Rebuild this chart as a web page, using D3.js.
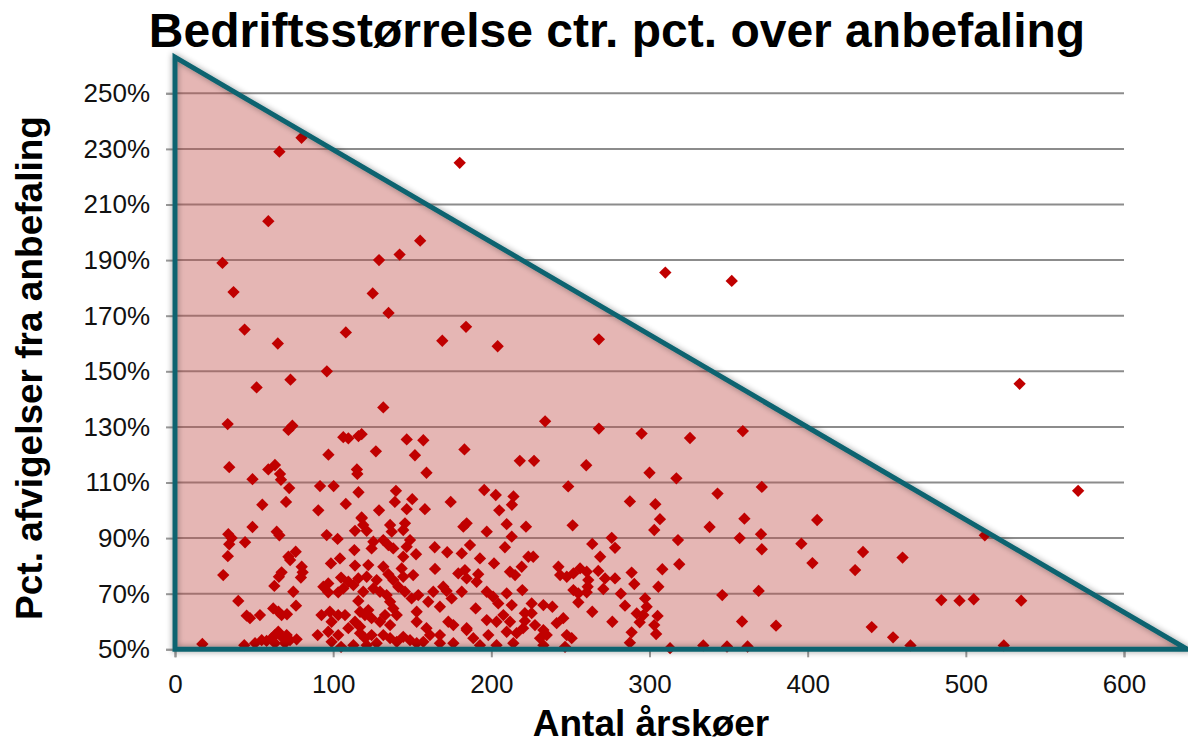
<!DOCTYPE html>
<html>
<head>
<meta charset="utf-8">
<script src="https://cdn.jsdelivr.net/npm/d3@7"></script>
<style>
  body { margin: 0; background: #fff; }
  text { font-family: Arial, "Liberation Sans", sans-serif; }
</style>
</head>
<body>
<svg id="chart" width="1188" height="745"></svg>
<script>
// antal årskøer per bedrift (x) and pct. afvigelse fra anbefaling (y)
const herdSize = [
  80, 66, 59, 30, 37, 44, 65, 108, 96, 73,
  129, 142, 155, 125, 135, 169, 184, 180, 310, 352,
  204, 268, 534, 571, 512, 496, 505, 535, 524,
  359, 343, 371, 338, 360, 406, 357, 370.5, 371, 396,
  435, 403, 430, 460, 346, 369, 484.5, 358.5, 380, 440.5,
  454, 465, 334, 349, 362,
  234, 268, 295, 325.6, 218, 227, 260, 300, 317, 248.6, 287.6, 303.7,
  131.7, 106.4, 109.6, 116, 118, 146.5, 157, 127, 151.7, 183,
  115, 115.3, 159, 116, 108, 139.7, 139, 150, 146.5, 129, 158,
  174.3, 195.5, 202.8, 214, 213, 205, 118,
  51.6, 33.3, 71.7, 74.2, 97, 34.3, 59, 63.2, 49, 66.4,
  67, 72.2, 91.7, 100.3, 55.2, 70.2, 90.6,
  49, 33.7, 35.8, 34.3, 44.3, 64.3, 66, 33.4, 30.5, 71.7,
  76.3, 72.8, 67.4, 65.7, 80.1, 80.7, 79.6, 62.8, 74.8, 40,
  45.3, 47.4, 53.7, 62.1, 65.4, 67.4, 70.8, 76.5, 17.3, 43.8,
  50.6, 54.8, 57.9, 61.1, 63.2, 65.3, 67.4, 70.6, 72.7, 76.9, 63.2, 69.5,
  95.9, 102.8, 98.6, 104.3, 105, 93.8, 96.9, 96.9, 103.2, 106.4,
  92.6, 97.9, 99, 103.2, 90.2, 96.9, 99, 103.2, 105,
  118, 119, 113.8, 121.2, 136, 137, 145.4, 144.3, 182.3, 184.4,
  197.1, 209.7, 212.9, 125.4, 124.3, 131.7, 134.9, 138, 148.6, 146.5,
  113.4, 152.4, 144.3, 164.2, 172.1, 181.3, 186.5, 192.8, 208.6, 201.7,
  113.8, 122.2, 131.7, 143.3, 150.6, 164.4, 109.6, 115.9, 121.2, 127.5,
  134.9, 138, 144.3, 179.1, 183.3, 184.4, 190.7, 191.7, 211.8, 215,
  112.8, 119, 115.9, 125.4, 129.6, 133.8, 136, 141.2, 145.4, 149.6,
  153.8, 163.3, 160.1, 169.6, 171.7, 174.9, 167.5, 181.3, 190.1, 197.1,
  201.1, 204.4, 209.7, 212.9, 107.5, 117, 120.1, 122.2, 124.3, 113.8,
  117, 129.6, 132.8, 136, 138, 140.2, 152.8, 152.8, 159, 172.8,
  176, 184.4, 197.1, 203.3, 207.6, 211.8, 109.6, 117, 120.1, 124.3,
  112.8, 121.2, 127.5, 131.7, 136, 140.2, 144.3, 148.6, 152.8, 157,
  161.2, 167.5, 167.5, 176, 184.4, 188.6, 192.8, 198.1, 203.3, 209.7, 213.9,
  221.9, 251.4, 306.6, 303, 318, 276.1, 278.2, 263.8, 268.8, 318.8,
  308.1, 288.7, 290.4, 305.6, 223.4, 226.5, 219.2, 219.6, 242.4, 243.5,
  247.7, 251.9, 256.1, 260.3, 261.3, 260.9, 267.6, 271.9, 278.2, 251.9,
  255, 260.3, 270.8, 281.9, 255, 263.8, 284.5, 276.5, 297.2, 298.2,
  291.9, 296.1, 293.8, 305.1, 303, 288.7, 287.6, 304.2, 313, 225.5,
  232.9, 238.6, 221.2, 225.5, 221.2, 220.1, 241.3, 245.5, 227.6, 232.9,
  235, 230.8, 247.7, 250.8, 216, 232.9, 246.6
];

const pctOver = [
  234, 229, 204, 189, 178.5, 165, 160, 164, 150, 147,
  190, 192, 197, 178, 171, 161, 166, 225, 185.5, 182.5,
  159, 161.5, 145.5, 107, 91, 67.5, 68, 67.5, 51.4,
  128.5, 106, 108.4, 94, 97, 96.5, 90, 91.4, 86, 88,
  85, 81, 78.5, 83, 69.5, 71, 67.7, 60, 58.5, 58,
  54.3, 51.4, 51.4, 51, 51,
  132, 129.4, 127.6, 126, 117.8, 117.8, 116.2, 113.5, 111.5, 108.6, 103.2, 102.2,
  137, 126.3, 125.9, 126.7, 127.4, 125.5, 125.2, 121.2, 119.8, 121.9,
  114.7, 113.1, 113.5, 106.5, 102.3, 107, 103, 104, 100.4, 100, 100.4,
  103, 107.3, 105.5, 105, 102, 100, 97.4,
  144.2, 131, 128.9, 130.4, 120, 115.5, 114.7, 116.3, 111.2, 113.1,
  111, 108, 108.7, 108.7, 102, 103, 100,
  94, 91.4, 90, 87.8, 88.5, 92.3, 91, 83.5, 76.7, 83.3,
  85.1, 82.1, 77.7, 76.1, 79.7, 77.7, 75.8, 72.8, 70.7, 67.4,
  62.1, 61.2, 62.3, 64.7, 63.5, 62.3, 62.6, 65.7, 51.9, 51.5,
  52.2, 53.3, 53, 54, 55.1, 56.3, 54.5, 55.1, 53.3, 53.6, 52.2, 52.2,
  91.1, 89.7, 80.9, 82.7, 75.8, 72.5, 73.7, 70.5, 70.5, 71.9,
  62.3, 63.5, 59.9, 62.3, 55.1, 56.3, 52.7, 55.1, 50.9,
  97.1, 94.7, 92.6, 92.6, 94.7, 92.3, 95.3, 92.9, 94.1, 95.3,
  92.3, 95, 90.5, 88.7, 86.3, 89.3, 87.5, 86.3, 89.3, 86.9,
  85.7, 84.2, 83.3, 86.7, 84.9, 84.5, 87.5, 82.7, 86.7, 80.9,
  80.1, 80.3, 79.7, 79.1, 76.7, 78.9, 74.3, 75.5, 76.1, 74.9,
  77, 74.9, 76.1, 77.3, 78.5, 75.5, 74.3, 77, 77.9, 76.7,
  73.1, 70.7, 67.4, 71.9, 70.7, 69.5, 67.1, 72.5, 70.7, 68.3,
  69.5, 70.7, 67.1, 72.5, 71, 68.3, 65.3, 70.7, 64.7, 70.7,
  68.9, 66.5, 70.1, 65.9, 62.3, 63.5, 62.3, 64.1, 61.2, 59.9,
  58.1, 59.9, 62.3, 58.7, 64.7, 62.3, 63.5, 59.9, 57.6, 59.9,
  58.7, 57.6, 60.5, 59.9, 62.3, 59.9, 57.6, 55.8, 54, 55.1,
  51.5, 51.5, 52.2, 55.1, 54, 52.7, 54.5, 53.3, 52.2, 52.7,
  55.1, 55.1, 52.2, 52.2, 56.9, 54, 51.5, 55.1, 51.5, 56.3, 52.2,
  94.1, 94.6, 96.8, 92.9, 89.3, 90.1, 86.5, 87.9, 83.3, 80.6,
  78.8, 77.6, 73.5, 72.5, 83.3, 83.3, 79.7, 71.3, 79.7, 76.7,
  76.1, 77.3, 79.1, 77.9, 74.9, 72.5, 78.2, 75.5, 75.5, 71.3,
  70.1, 70.5, 71.7, 70, 66.9, 63.5, 65.7, 59.9, 68.3, 65.3,
  62.9, 62.3, 59.7, 62, 58.7, 56.1, 52.4, 55.5, 50.4, 66.5,
  65.9, 65.3, 63, 63, 60.2, 57.6, 59.4, 61.2, 58.7, 56.9,
  55.1, 54, 55.1, 54, 55.8, 51.5, 50.9
];

const yTicks = [50, 70, 90, 110, 130, 150, 170, 190, 210, 230, 250];
const xTicks = [0, 100, 200, 300, 400, 500, 600];

// the drawn triangle (anbefalingsgrænse)
const triangleX = [0, 640, 0];
const triangleY = [263, 50, 50];

const svg = d3.select("#chart");

const xScale = d3.scaleLinear()
  .domain([0, 600])
  .range([175, 1124]);

const yScale = d3.scaleLinear()
  .domain([50, 250])
  .range([649.3, 93.3]);

const defs = svg.append("defs");
const glow = defs.append("filter")
  .attr("id", "glow")
  .attr("x", "-10%").attr("y", "-10%")
  .attr("width", "120%").attr("height", "120%");
glow.append("feGaussianBlur").attr("in", "SourceAlpha").attr("stdDeviation", 3);
glow.append("feComponentTransfer").append("feFuncA").attr("type", "linear").attr("slope", 0.4);
const merge = glow.append("feMerge");
merge.append("feMergeNode");
merge.append("feMergeNode").attr("in", "SourceGraphic");

// gridlines
svg.append("g")
  .selectAll("line")
  .data(yTicks)
  .enter()
  .append("line")
  .attr("x1", xScale(0))
  .attr("x2", xScale(600))
  .attr("y1", d => yScale(d))
  .attr("y2", d => yScale(d))
  .attr("stroke", "#8c8c8c")
  .attr("stroke-width", 2);

// axes
const yAxis = d3.axisLeft(yScale)
  .tickValues(yTicks)
  .tickSize(9)
  .tickPadding(16)
  .tickFormat(d => d + "%");

const xAxis = d3.axisBottom(xScale)
  .tickValues(xTicks)
  .tickSize(8)
  .tickPadding(17)
  .tickFormat(d3.format("d"));

const gy = svg.append("g")
  .attr("transform", "translate(" + xScale(0) + ",0)")
  .call(yAxis);

const gx = svg.append("g")
  .attr("transform", "translate(0," + yScale(50) + ")")
  .call(xAxis);

[gx, gy].forEach(g => {
  g.select(".domain").attr("stroke", "#9a9a9a").attr("stroke-width", 2);
  g.selectAll(".tick line").attr("stroke", "#9a9a9a").attr("stroke-width", 2);
  g.selectAll(".tick text")
    .attr("fill", "#111")
    .style("font-size", "26px")
    .style("font-family", "Arial, 'Liberation Sans', sans-serif");
});

// triangle fill
const triPts = triangleX.map((d, i) => [d, triangleY[i]]);
const triLine = d3.line()
  .x(d => xScale(d[0]))
  .y(d => yScale(d[1]))
  .curve(d3.curveLinearClosed);

svg.append("path")
  .attr("d", triLine(triPts))
  .attr("fill", "#c0504d")
  .attr("fill-opacity", 0.42);

// points
const points = herdSize.map((d, i) => ({ x: d, y: pctOver[i] }));

svg.append("g")
  .selectAll("path")
  .data(points)
  .enter()
  .append("path")
  .attr("d", d3.symbol().type(d3.symbolSquare).size(76))
  .attr("transform", d => "translate(" + xScale(d.x) + "," + yScale(d.y) + ") rotate(45)")
  .attr("fill", "#c00000");

// triangle outline
svg.append("path")
  .attr("d", triLine(triPts))
  .attr("fill", "none")
  .attr("stroke", "#11646f")
  .attr("stroke-width", 5)
  .attr("stroke-linejoin", "miter")
  .attr("filter", "url(#glow)");

// titles
svg.append("text")
  .attr("x", 617)
  .attr("y", 47)
  .attr("text-anchor", "middle")
  .style("font-size", "48px")
  .style("font-weight", "bold")
  .text("Bedriftsstørrelse ctr. pct. over anbefaling");

svg.append("text")
  .attr("transform", "translate(42,368) rotate(-90)")
  .attr("text-anchor", "middle")
  .style("font-size", "37px")
  .style("font-weight", "bold")
  .text("Pct. afvigelser fra anbefaling");

svg.append("text")
  .attr("x", 651)
  .attr("y", 736)
  .attr("text-anchor", "middle")
  .style("font-size", "37px")
  .style("font-weight", "bold")
  .text("Antal årskøer");
</script>
</body>
</html>
